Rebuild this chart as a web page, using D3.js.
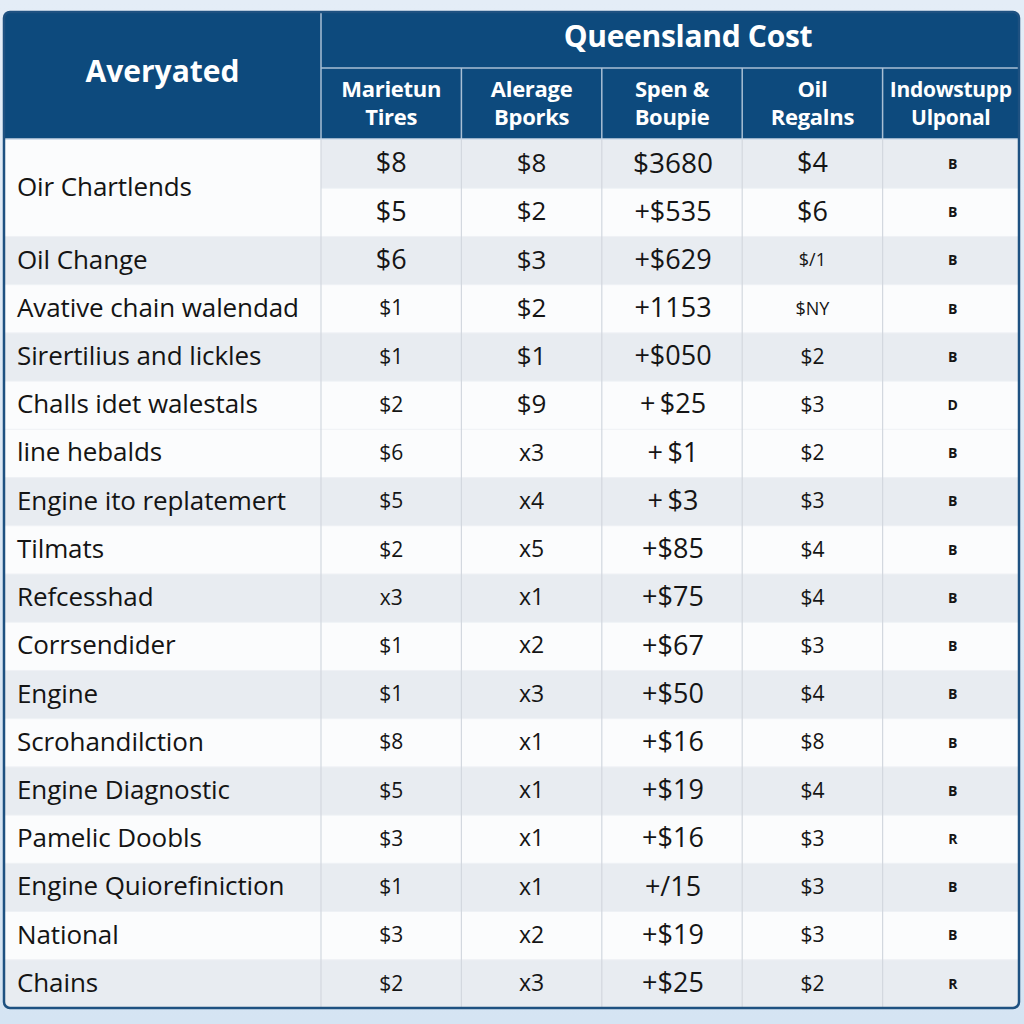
<!DOCTYPE html>
<html><head><meta charset="utf-8">
<script src="https://cdn.jsdelivr.net/npm/d3@7"></script>
<style>html,body{margin:0;padding:0;background:#dbe7f4;}svg{display:block;}</style>
</head><body>
<script>
const rowHeader = "Averyated";
const groupTitle = "Queensland Cost";
const columnHeaders = [["Marietun","Tires"],["Alerage","Bporks"],["Spen &","Boupie"],["Oil","Regalns"],["Indowstupp","Ulponal"]];
const categories = ["Oir Chartlends","Oil Change","Avative chain walendad","Sirertilius and lickles","Challs idet walestals","line hebalds","Engine ito replatemert","Tilmats","Refcesshad","Corrsendider","Engine","Scrohandilction","Engine Diagnostic","Pamelic Doobls","Engine Quiorefiniction","National","Chains"];
const categorySpans = [2,1,1,1,1,1,1,1,1,1,1,1,1,1,1,1,1];
const marietunTires = ["$8","$5","$6","$1","$1","$2","$6","$5","$2","x3","$1","$1","$8","$5","$3","$1","$3","$2"];
const alerageBporks = ["$8","$2","$3","$2","$1","$9","x3","x4","x5","x1","x2","x3","x1","x1","x1","x1","x2","x3"];
const spenBoupie = ["$3680","+$535","+$629","+1153","+$050","+\u2009$25","+\u2009$1","+\u2009$3","+$85","+$75","+$67","+$50","+$16","+$19","+$16","+/15","+$19","+$25"];
const oilRegalns = ["$4","$6","$/1","$NY","$2","$3","$2","$3","$4","$4","$3","$4","$8","$4","$3","$3","$3","$2"];
const indowstuppUlponal = ["B","B","B","B","B","D","B","B","B","B","B","B","B","B","R","B","B","R"];

(function(){
const columns = [marietunTires, alerageBporks, spenBoupie, oilRegalns, indowstuppUlponal];
const shaded = [1,0,1,0,1,0,0,1,0,1,0,1,0,1,0,1,0,1];

const W = 1024, H = 1024;
const cLeft = 4, cRight = 1019, cTop = 12, cBottom = 1008;
const headerBottom = 139, groupBottom = 68, labelColRight = 321;
const navy = "#0d4a7d", gray = "#e8ecf1", white = "#fbfcfd", line = "#d3d8df";

const svg = d3.select("body").append("svg").attr("width", W).attr("height", H);
const defs = svg.append("defs");
const g = defs.append("linearGradient").attr("id","bg").attr("x1",0).attr("y1",0).attr("x2",0).attr("y2",1);
g.append("stop").attr("offset","0").attr("stop-color","#e4edf7");
g.append("stop").attr("offset","1").attr("stop-color","#d5e4f3");
svg.append("rect").attr("width",W).attr("height",H).attr("fill","url(#bg)");
defs.append("clipPath").attr("id","card").append("rect")
  .attr("x",cLeft).attr("y",cTop).attr("width",cRight-cLeft).attr("height",cBottom-cTop).attr("rx",6);

const nSub = marietunTires.length;
const y = d3.scaleBand().domain(d3.range(nSub)).range([headerBottom+1, cBottom]);
const x = d3.scaleBand().domain(d3.range(columns.length)).range([labelColRight, cRight+4]);

const card = svg.append("g").attr("clip-path","url(#card)");
card.append("rect").attr("x",cLeft).attr("y",cTop).attr("width",cRight-cLeft).attr("height",cBottom-cTop).attr("fill",white);

card.append("rect").attr("x",cLeft).attr("y",cTop).attr("width",cRight-cLeft).attr("height",headerBottom-cTop).attr("fill",navy);

let starts = []; let acc = 0;
categorySpans.forEach(s => { starts.push(acc); acc += s; });
card.selectAll("rect.lab").data(categories).join("rect").attr("class","lab")
  .attr("x",cLeft).attr("width",labelColRight-cLeft)
  .attr("y",(d,i)=>y(starts[i]))
  .attr("height",(d,i)=>y.step()*categorySpans[i])
  .attr("fill",(d,i)=> categorySpans[i]>1 ? white : (shaded[starts[i]] ? gray : white));
card.selectAll("rect.row").data(d3.range(nSub)).join("rect").attr("class","row")
  .attr("x",labelColRight).attr("width",cRight-labelColRight)
  .attr("y",d=>y(d)).attr("height",y.step()+0.5)
  .attr("fill",d=>shaded[d]?gray:white);

card.selectAll("line.h").data(d3.range(1,nSub)).join("line").attr("class","h")
  .attr("x1",d=> starts.includes(d) ? cLeft : labelColRight).attr("x2",cRight)
  .attr("y1",d=>y(d)).attr("y2",d=>y(d)).attr("stroke","#eef1f5").attr("stroke-width",1);

const vx = [labelColRight, ...d3.range(1,columns.length).map(i=>x(i))];
card.selectAll("line.v").data(vx).join("line").attr("class","v")
  .attr("x1",d=>d).attr("x2",d=>d).attr("y1",headerBottom).attr("y2",cBottom)
  .attr("stroke",line).attr("stroke-width",1.2);

const hdrLine = "#a9bfd4";
card.append("line").attr("x1",labelColRight).attr("x2",labelColRight).attr("y1",cTop).attr("y2",headerBottom).attr("stroke",hdrLine).attr("stroke-width",1.5);
card.append("line").attr("x1",labelColRight).attr("x2",cRight).attr("y1",groupBottom).attr("y2",groupBottom).attr("stroke",hdrLine).attr("stroke-width",1.5);
card.selectAll("line.hv").data(d3.range(1,columns.length)).join("line").attr("class","hv")
  .attr("x1",d=>x(d)).attr("x2",d=>x(d)).attr("y1",groupBottom).attr("y2",headerBottom)
  .attr("stroke",hdrLine).attr("stroke-width",1.5);
card.append("line").attr("x1",cLeft).attr("x2",cRight).attr("y1",headerBottom).attr("y2",headerBottom).attr("stroke","#c9d6e4").attr("stroke-width",1.5);

const font = "'Open Sans', 'Noto Sans', sans-serif";
card.append("text").text(rowHeader).attr("x",(cLeft+labelColRight)/2).attr("y",74)
  .attr("text-anchor","middle").attr("dominant-baseline","middle")
  .attr("font-family",font).attr("font-weight",700).attr("font-size",30).attr("fill","#fff");
card.append("text").text(groupTitle).attr("x",(labelColRight+cRight)/2 + 18).attr("y",39)
  .attr("text-anchor","middle").attr("dominant-baseline","middle")
  .attr("font-family",font).attr("font-weight",700).attr("font-size",30).attr("fill","#fff").attr("letter-spacing",-0.3);
const hg = card.selectAll("g.hd").data(columnHeaders).join("g").attr("class","hd");
hg.selectAll("text").data((d,i)=>d.map(t=>({t,i}))).join("text")
  .text(d=>d.t)
  .attr("x",d=>x(d.i)+x.bandwidth()/2 - (d.i===4 ? 2 : 0))
  .attr("y",(d,j)=>91+j*28)
  .attr("text-anchor","middle").attr("dominant-baseline","middle")
  .attr("font-family",font).attr("font-weight",700)
  .attr("font-size",d=> d.i===4 ? 21 : 22).attr("fill","#fff").attr("letter-spacing",-0.3);

card.selectAll("text.cat").data(categories).join("text").attr("class","cat")
  .text(d=>d)
  .attr("x",17)
  .attr("y",(d,i)=>y(starts[i]) + y.step()*categorySpans[i]/2 + 1)
  .attr("dominant-baseline","middle")
  .attr("font-family",font).attr("font-size",26).attr("fill","#141414").attr("letter-spacing",-0.1);

function fsize(ci, ri, v){
  if (ci===4) return 14;
  if (ci===2) return ri===0 ? 28 : 27;
  if (ci===1) return v[0]==="x" ? 23 : 26;
  if (ci===3) { if (ri<2) return 27; if (ri===2||ri===3) return 18; return 21; }
  if (ci===0) { return ri<3 ? 27 : 21; }
  return 22;
}
columns.forEach((col, ci) => {
  card.selectAll("text.c"+ci).data(col).join("text").attr("class","c"+ci)
    .text(d=>d)
    .attr("x", x(ci) + x.bandwidth()/2 + (ci===2 ? 1 : 0))
    .attr("y",(d,ri)=>y(ri)+y.step()/2+1)
    .attr("text-anchor","middle").attr("dominant-baseline","middle")
    .attr("font-family", font)
    .attr("font-weight", ci===4 ? 700 : 400)
    .attr("font-size",(d,ri)=>fsize(ci,ri,d))
    .attr("fill","#151515");
});

svg.append("rect").attr("x",cLeft).attr("y",cTop).attr("width",cRight-cLeft).attr("height",cBottom-cTop).attr("rx",6)
  .attr("fill","none").attr("stroke","#1e5181").attr("stroke-width",2.5);
})();
</script>
</body></html>
